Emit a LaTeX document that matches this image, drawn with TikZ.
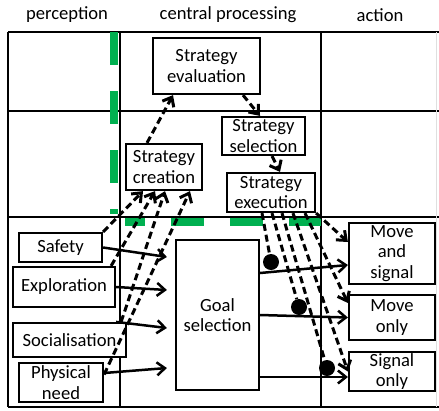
\documentclass[tikz,border=0pt]{standalone}
\usepackage{fontspec}
\setmainfont{Carlito}
\usetikzlibrary{arrows.meta, positioning, calc}
\definecolor{bargreen}{RGB}{0,176,80}

\begin{document}
\begin{tikzpicture}[
    x=1pt, y=-1pt,
    box/.style={draw, rectangle, fill=white, line width=2.2pt, inner sep=1pt, align=center, font=\fontsize{18.6}{20.5}\selectfont},
    head/.style={font=\fontsize{18.6}{20.5}\selectfont},
    grid line/.style={line width=2.2pt},
    flow/.style={line width=2.5pt, -{Straight Barb[length=8pt, width=13pt]}},
    ctrl/.style={line width=3pt, dash pattern=on 7pt off 4pt, -{Straight Barb[length=8pt, width=13pt]}},
    ctrl end/.style={line width=3pt, dash pattern=on 7pt off 4pt},
    dot/.style={circle, fill=black, inner sep=0pt, minimum size=16pt},
    bar/.style={bargreen, line width=8pt, dash pattern=on 33pt off 26pt}
]

\useasboundingbox (0,0) rectangle (439,410);

% Headers
\node[head] (hPer) at (67,15) {perception};
\node[head] (hCen) at (228,15) {central processing};
\node[head] (hAct) at (380,15) {action};

% Grid
\draw[grid line] (8,32) -- (439,32);
\draw[grid line] (8,111) -- (439,111);
\draw[grid line] (8,217) -- (439,217);
\draw[grid line] (8,407) -- (439,407);
\draw[grid line] (8,32) -- (8,407);
\draw[grid line] (120,32) -- (120,407);
\draw[grid line] (321,32) -- (321,407);
\draw[gray!25, line width=0.8pt] (436,32) -- (436,407);

% Green bars
\draw[bar] (114,32) -- (114,214);
\draw[bar, dash phase=13pt] (125,222) -- (321,222);

% Nodes
\node[box, minimum width=107pt, minimum height=56pt] (Eval) at (206.5,66) {Strategy\\evaluation};
\node[box, minimum width=83pt, minimum height=38pt] (Select) at (263.5,136) {Strategy\\selection};
\node[box, minimum width=76pt, minimum height=46pt] (Create) at (164,167) {Strategy\\creation};
\node[box, minimum width=88pt, minimum height=39pt] (Exec) at (271,192.5) {Strategy\\execution};
\node[box, minimum width=83pt, minimum height=150pt] (Goal) at (217.5,315) {Goal\\selection};

\node[box, minimum width=83pt, minimum height=29pt] (Safety) at (60.5,247.5) {Safety};
\node[box, minimum width=102pt, minimum height=40pt] (Explor) at (64,287) {Exploration};
\node[box, minimum width=113pt, minimum height=34pt] (Social) at (69.5,340) {Socialisation};
\node[box, minimum width=84pt, minimum height=39pt] (Phys) at (61,382.5) {Physical\\need};

\node[box, minimum width=86pt, minimum height=61pt] (MoveSig) at (392,253.5) {Move\\and\\signal};
\node[box, minimum width=86pt, minimum height=45pt] (MoveOnly) at (392,317.5) {Move\\only};
\node[box, minimum width=86pt, minimum height=39pt] (SigOnly) at (392,371.5) {Signal\\only};

% Inputs to goal selection
\draw[flow] (Safety.east) -- ([xshift=-8pt, yshift=58pt]Goal.west);
\draw[flow] (Explor.east) -- ([xshift=-8pt, yshift=25pt]Goal.west);
\draw[flow] ([xshift=-11pt]Social.north east) -- ([xshift=-8pt, yshift=-13pt]Goal.west);
\draw[flow] ([yshift=9.5pt]Phys.east) -- ([xshift=-8pt, yshift=-53pt]Goal.west);

% Goal selection to actions
\draw[flow] ([yshift=42pt]Goal.east) -- ([yshift=-11.5pt]MoveSig.west);
\draw[flow] (Goal.east) -- (MoveOnly.west);
\draw[flow] ([yshift=-62pt]Goal.east) -- ([yshift=-5.5pt]SigOnly.west);

% Inputs to strategy creation
\draw[ctrl] (Safety.north east) -- ([xshift=-21pt]Create.south);
\draw[ctrl] ([xshift=-5pt]Explor.north east) -- ([xshift=-9pt]Create.south);
\draw[ctrl] ([xshift=-6pt]Social.north east) -- ([xshift=1pt]Create.south);
\draw[ctrl] ([yshift=8pt]Phys.east) -- ([xshift=26pt]Create.south);

% Strategy cycle
\draw[ctrl] ([xshift=-17pt]Create.north) -- ([xshift=-33.5pt]Eval.south);
\draw[ctrl] ([xshift=36.5pt]Eval.south) -- ([xshift=-3.5pt]Select.north);
\draw[ctrl] ([xshift=8.5pt]Select.south) -- ([xshift=9pt]Exec.north);

% Modulators
\node[dot] (D1) at (271,262) {};
\node[dot] (D2) at (299,307) {};
\node[dot] (D3) at (327,368) {};

% Strategy execution to actions
\draw[ctrl end] ([xshift=-9pt]Exec.south) -- (D1);
\draw[ctrl end] ([xshift=1pt]Exec.south) -- (D2);
\draw[ctrl end] ([xshift=11pt]Exec.south) -- (D3);
\draw[ctrl] ([xshift=22pt]Exec.south) -- (SigOnly.west);
\draw[ctrl] ([xshift=34pt]Exec.south) -- ([yshift=14.5pt]MoveOnly.west);
\draw[ctrl] (Exec.south east) -- ([yshift=11.5pt]MoveSig.west);

\end{tikzpicture}
\end{document}
